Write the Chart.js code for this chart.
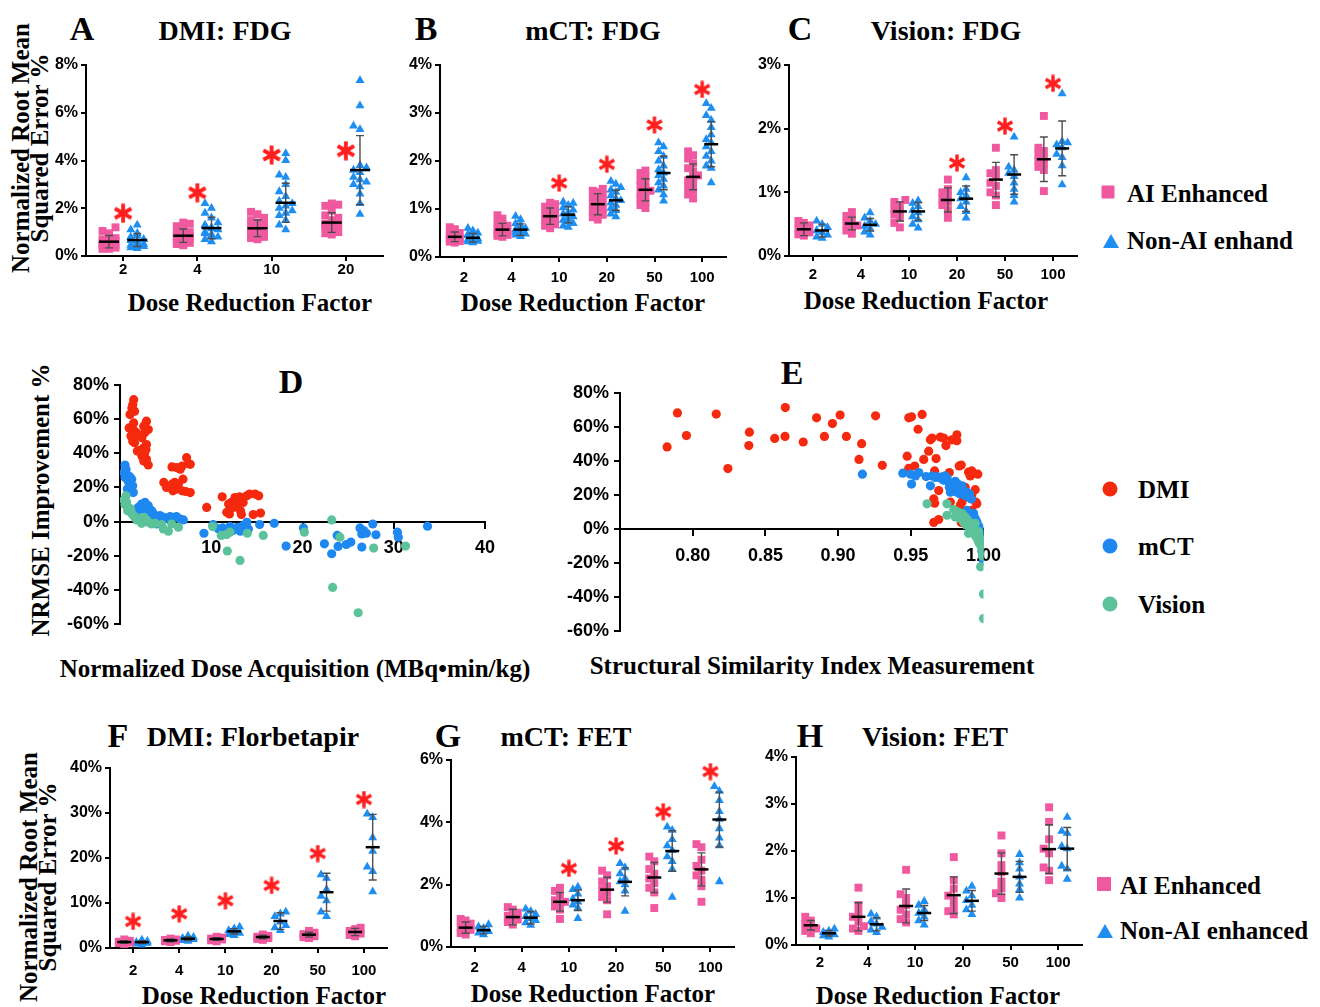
<!DOCTYPE html>
<html>
<head>
<meta charset="utf-8">
<script src="https://cdn.jsdelivr.net/npm/chart.js@4.4.0/dist/chart.umd.min.js"></script>
<style>
body { margin: 0; background: #fff; }
#fig { position: relative; width: 1320px; height: 1007px; overflow: hidden; }
canvas { position: absolute; }
.t { position: absolute; transform: translate(-50%, -50%); white-space: nowrap; font-family: 'Liberation Serif', 'Times New Roman', serif; font-weight: bold; color: #000; line-height: 1; }
.let { font-size: 34px; }
.ttl { font-size: 28px; }
.ax { font-size: 25px; }
.yt { transform: translate(-50%, -50%) rotate(-90deg); text-align: center; line-height: 19px; }
.lg { position: absolute; transform: translate(0, -50%); font-family: 'Liberation Serif', serif; font-weight: bold; font-size: 25px; white-space: nowrap; line-height: 1; }
.sq { position: absolute; width: 13px; height: 13px; background: #F0589F; transform: translate(-50%, -50%); }
.tri { position: absolute; width: 0; height: 0; border-left: 8px solid transparent; border-right: 8px solid transparent; border-bottom: 14px solid #1F8EF1; transform: translate(-50%, -50%); }
.dot { position: absolute; width: 15px; height: 15px; border-radius: 50%; transform: translate(-50%, -50%); }
</style>
</head>
<body>
<div id="fig">
  <!-- top row -->
  <div class="t let" style="left:82px;top:29px">A</div>
  <div class="t ttl" style="left:225px;top:31px">DMI: FDG</div>
  <div class="t let" style="left:426px;top:29px">B</div>
  <div class="t ttl" style="left:593px;top:31px">mCT: FDG</div>
  <div class="t let" style="left:800px;top:29px">C</div>
  <div class="t ttl" style="left:946px;top:31px">Vision: FDG</div>
  <div class="t ax yt" style="left:30px;top:148px">Normalized Root Mean<br>Squared Error %</div>
  <div class="t ax" style="left:250px;top:302px">Dose Reduction Factor</div>
  <div class="t ax" style="left:583px;top:302px">Dose Reduction Factor</div>
  <div class="t ax" style="left:926px;top:300px">Dose Reduction Factor</div>
  <div class="sq" style="left:1108px;top:192px"></div>
  <div class="lg" style="left:1127px;top:193px">AI Enhanced</div>
  <div class="tri" style="left:1111px;top:241px"></div>
  <div class="lg" style="left:1127px;top:240px">Non-AI enhand</div>

  <!-- middle row -->
  <div class="t let" style="left:291px;top:382px">D</div>
  <div class="t let" style="left:792px;top:373px">E</div>
  <div class="t ax yt" style="left:40px;top:500px">NRMSE Improvement %</div>
  <div class="t ax" style="left:295px;top:668px">Normalized Dose Acquisition (MBq•min/kg)</div>
  <div class="t ax" style="left:812px;top:665px">Structural Similarity Index Measurement</div>
  <div class="dot" style="left:1110px;top:489px;background:#F5290D"></div>
  <div class="lg" style="left:1138px;top:489px">DMI</div>
  <div class="dot" style="left:1110px;top:546px;background:#1E88F0"></div>
  <div class="lg" style="left:1138px;top:546px">mCT</div>
  <div class="dot" style="left:1110px;top:604px;background:#5CC29A"></div>
  <div class="lg" style="left:1138px;top:604px">Vision</div>

  <!-- bottom row -->
  <div class="t let" style="left:118px;top:736px">F</div>
  <div class="t ttl" style="left:253px;top:737px">DMI: Florbetapir</div>
  <div class="t let" style="left:448px;top:736px">G</div>
  <div class="t ttl" style="left:566px;top:737px">mCT: FET</div>
  <div class="t let" style="left:810px;top:736px">H</div>
  <div class="t ttl" style="left:935px;top:737px">Vision: FET</div>
  <div class="t ax yt" style="left:38px;top:877px">Normalized Root Mean<br>Squared Error %</div>
  <div class="t ax" style="left:264px;top:995px">Dose Reduction Factor</div>
  <div class="t ax" style="left:593px;top:993px">Dose Reduction Factor</div>
  <div class="t ax" style="left:938px;top:995px">Dose Reduction Factor</div>
  <div class="sq" style="left:1104px;top:884px;width:14px;height:14px"></div>
  <div class="lg" style="left:1120px;top:885px">AI Enhanced</div>
  <div class="tri" style="left:1105px;top:931px"></div>
  <div class="lg" style="left:1120px;top:930px">Non-AI enhanced</div>
</div>

<script>
// ========================================
// Data
// ========================================
const dose4 = ['2', '4', '10', '20'];
const dose6 = ['2', '4', '10', '20', '50', '100'];

// A - DMI: FDG
const aiA = [
    [1.2, 1.05, 0.95, 0.85, 0.75, 0.7, 0.65, 0.6, 0.55, 0.5, 0.45, 0.42, 0.4, 0.35, 0.3, 0.3],
    [1.4, 1.35, 1.25, 1.1, 1.0, 0.95, 0.9, 0.85, 0.8, 0.75, 0.7, 0.65, 0.6, 0.55, 0.5, 0.45],
    [1.85, 1.75, 1.6, 1.5, 1.4, 1.3, 1.2, 1.15, 1.1, 1.0, 0.95, 0.9, 0.85, 0.8, 0.75, 0.7],
    [2.2, 2.15, 2.1, 1.9, 1.7, 1.6, 1.5, 1.4, 1.35, 1.3, 1.25, 1.2, 1.1, 1.0, 0.95, 0.9]
];
const nonAiA = [
    [1.3, 1.1, 0.95, 0.85, 0.8, 0.7, 0.65, 0.6, 0.55, 0.5, 0.45, 0.42, 0.4, 0.35, 0.32],
    [2.2, 2.0, 1.8, 1.6, 1.4, 1.3, 1.2, 1.15, 1.1, 1.0, 0.95, 0.9, 0.85, 0.8, 0.7, 0.6],
    [4.3, 4.0, 3.4, 3.3, 3.0, 2.7, 2.5, 2.3, 2.2, 2.1, 2.0, 1.9, 1.8, 1.7, 1.5, 1.3, 1.1],
    [7.35, 6.3, 5.45, 5.3, 3.8, 3.7, 3.6, 3.5, 3.3, 3.2, 3.1, 3.0, 2.9, 2.6, 2.2, 1.75]
];
const aiMeanA = [0.6, 0.85, 1.16, 1.4];
const aiSdA = [0.26, 0.28, 0.35, 0.41];
const nonAiMeanA = [0.67, 1.17, 2.23, 3.6];
const nonAiSdA = [0.27, 0.45, 0.82, 1.44];
const starA = [1.79, 2.65, 4.23, 4.41];

// B - mCT: FDG
const aiB = [
    [0.62, 0.58, 0.55, 0.5, 0.48, 0.45, 0.42, 0.4, 0.38, 0.36, 0.35, 0.33, 0.32, 0.3],
    [0.87, 0.8, 0.72, 0.68, 0.65, 0.6, 0.58, 0.55, 0.52, 0.5, 0.48, 0.46, 0.44, 0.42],
    [1.13, 1.1, 1.05, 1.0, 0.95, 0.9, 0.87, 0.85, 0.82, 0.78, 0.75, 0.72, 0.68, 0.65, 0.6],
    [1.42, 1.38, 1.35, 1.3, 1.25, 1.2, 1.15, 1.1, 1.05, 1.0, 0.95, 0.92, 0.88, 0.83, 0.78],
    [1.8, 1.75, 1.68, 1.6, 1.55, 1.48, 1.42, 1.38, 1.33, 1.28, 1.22, 1.15, 1.08, 1.02],
    [2.2, 2.12, 2.05, 1.95, 1.85, 1.78, 1.7, 1.65, 1.6, 1.52, 1.45, 1.38, 1.3, 1.22]
];
const nonAiB = [
    [0.6, 0.55, 0.5, 0.47, 0.45, 0.42, 0.4, 0.38, 0.36, 0.35, 0.33, 0.32, 0.3],
    [0.85, 0.78, 0.7, 0.66, 0.63, 0.6, 0.57, 0.55, 0.52, 0.5, 0.48, 0.46, 0.43],
    [1.15, 1.12, 1.08, 1.03, 0.98, 0.93, 0.9, 0.87, 0.84, 0.8, 0.77, 0.73, 0.7, 0.65, 0.62],
    [1.58, 1.52, 1.45, 1.4, 1.35, 1.28, 1.22, 1.18, 1.13, 1.08, 1.02, 0.97, 0.9, 0.84],
    [2.38, 2.3, 2.2, 2.1, 2.0, 1.9, 1.82, 1.75, 1.7, 1.62, 1.55, 1.48, 1.4, 1.3, 1.17],
    [3.2, 3.1, 2.95, 2.85, 2.7, 2.55, 2.45, 2.38, 2.3, 2.2, 2.1, 2.0, 1.9, 1.85, 1.55]
];
const aiMeanB = [0.42, 0.57, 0.85, 1.1, 1.4, 1.67];
const aiSdB = [0.1, 0.13, 0.17, 0.22, 0.23, 0.27];
const nonAiMeanB = [0.4, 0.57, 0.88, 1.18, 1.75, 2.35];
const nonAiSdB = [0.09, 0.12, 0.17, 0.21, 0.35, 0.47];
const starB = [null, null, 1.54, 1.93, 2.75, 3.49];

// C - Vision: FDG
const aiC = [
    [0.55, 0.52, 0.48, 0.43, 0.4, 0.37, 0.34, 0.32],
    [0.69, 0.63, 0.58, 0.52, 0.48, 0.45, 0.4, 0.35],
    [0.88, 0.85, 0.8, 0.75, 0.7, 0.65, 0.6, 0.52, 0.45],
    [1.2, 1.05, 1.0, 0.95, 0.9, 0.85, 0.8, 0.72, 0.6],
    [1.7, 1.35, 1.3, 1.25, 1.15, 1.1, 1.0, 0.95, 0.8],
    [2.2, 1.7, 1.65, 1.6, 1.55, 1.5, 1.45, 1.4, 1.35, 1.02]
];
const nonAiC = [
    [0.55, 0.5, 0.45, 0.4, 0.37, 0.33, 0.3, 0.28],
    [0.68, 0.6, 0.55, 0.5, 0.47, 0.43, 0.38, 0.33],
    [0.87, 0.83, 0.78, 0.72, 0.68, 0.62, 0.57, 0.5, 0.44],
    [1.23, 1.05, 1.0, 0.95, 0.9, 0.85, 0.78, 0.7, 0.6],
    [1.87, 1.4, 1.35, 1.3, 1.25, 1.15, 1.05, 0.95, 0.85],
    [2.55, 1.8, 1.78, 1.75, 1.7, 1.6, 1.55, 1.42, 1.12]
];
const aiMeanC = [0.42, 0.51, 0.7, 0.88, 1.2, 1.52];
const aiSdC = [0.1, 0.1, 0.15, 0.19, 0.27, 0.35];
const nonAiMeanC = [0.4, 0.49, 0.7, 0.9, 1.28, 1.69];
const nonAiSdC = [0.1, 0.1, 0.14, 0.2, 0.31, 0.43];
const starC = [null, null, null, 1.46, 2.04, 2.71];

// F - DMI: Florbetapir
const aiF = [
    [1.9, 1.6, 1.4, 1.3, 1.2, 1.1, 0.9],
    [2.1, 1.9, 1.8, 1.7, 1.6, 1.5, 1.3],
    [2.5, 2.3, 2.1, 2.0, 1.9, 1.7, 1.5],
    [3.0, 2.7, 2.5, 2.4, 2.2, 2.0, 1.8],
    [3.8, 3.4, 3.1, 2.9, 2.6, 2.4, 2.2],
    [4.5, 4.2, 3.8, 3.5, 3.2, 2.9, 2.6]
];
const nonAiF = [
    [1.8, 1.5, 1.3, 1.2, 1.1, 0.9, 0.7],
    [2.7, 2.4, 2.2, 2.0, 1.9, 1.7, 1.5],
    [4.7, 4.3, 3.9, 3.6, 3.3, 3.0, 2.8],
    [8.0, 7.6, 7.0, 5.8, 5.0, 4.5, 3.9],
    [16.3, 15.5, 13.0, 11.5, 10.5, 8.0, 7.0],
    [29.8, 29.0, 24.5, 21.5, 18.0, 17.0, 12.5]
];
const aiMeanF = [1.33, 1.7, 2.0, 2.44, 2.96, 3.56];
const aiSdF = [0.3, 0.3, 0.3, 0.4, 0.55, 0.8];
const nonAiMeanF = [1.3, 2.07, 3.7, 6.0, 12.4, 22.4];
const nonAiSdF = [0.3, 0.4, 0.6, 1.85, 4.2, 7.3];
const starF = [5.9, 7.6, 10.5, 13.9, 21.0, 33.0];

// G - mCT: FET
const aiG = [
    [0.9, 0.85, 0.75, 0.65, 0.6, 0.55, 0.45, 0.4],
    [1.28, 1.2, 1.1, 1.0, 0.95, 0.88, 0.8, 0.72],
    [1.9, 1.8, 1.65, 1.5, 1.45, 1.38, 1.3, 1.2, 0.9],
    [2.45, 2.3, 2.1, 1.95, 1.85, 1.75, 1.6, 1.5, 1.05],
    [2.9, 2.75, 2.5, 2.35, 2.2, 2.05, 1.9, 1.75, 1.25],
    [3.3, 3.2, 2.8, 2.6, 2.45, 2.3, 2.15, 1.95, 1.45]
];
const nonAiG = [
    [0.72, 0.65, 0.6, 0.55, 0.5, 0.45, 0.4],
    [1.22, 1.15, 1.05, 0.98, 0.92, 0.85, 0.78, 0.7],
    [1.93, 1.85, 1.7, 1.55, 1.45, 1.35, 1.25, 0.92],
    [2.68, 2.55, 2.35, 2.2, 2.1, 2.0, 1.8, 1.15],
    [3.85, 3.75, 3.45, 3.25, 3.1, 2.9, 2.75, 2.5, 1.6],
    [5.15, 5.0, 4.7, 4.35, 4.1, 3.8, 3.5, 3.25, 2.1]
];
const aiMeanG = [0.62, 0.96, 1.45, 1.84, 2.23, 2.49];
const aiSdG = [0.18, 0.25, 0.3, 0.4, 0.48, 0.53];
const nonAiMeanG = [0.54, 0.94, 1.5, 2.09, 3.08, 4.09];
const nonAiSdG = [0.12, 0.2, 0.33, 0.45, 0.65, 0.88];
const starG = [null, null, 2.52, 3.24, 4.34, 5.63];

// H - Vision: FET
const aiH = [
    [0.6, 0.52, 0.45, 0.4, 0.35, 0.3, 0.25],
    [1.22, 0.85, 0.7, 0.6, 0.5, 0.4, 0.35, 0.3],
    [1.6, 1.08, 1.0, 0.85, 0.75, 0.65, 0.55, 0.48],
    [1.87, 1.38, 1.2, 1.05, 0.95, 0.8, 0.72, 0.65],
    [2.33, 1.95, 1.7, 1.55, 1.35, 1.2, 1.1, 1.0],
    [2.93, 2.62, 2.25, 2.05, 1.95, 1.65, 1.58, 1.38]
];
const nonAiH = [
    [0.34, 0.3, 0.27, 0.24, 0.22, 0.2, 0.17],
    [0.66, 0.6, 0.5, 0.45, 0.38, 0.32, 0.27],
    [0.93, 0.85, 0.75, 0.68, 0.6, 0.52, 0.43],
    [1.25, 1.15, 1.05, 0.95, 0.85, 0.75, 0.65],
    [1.93, 1.75, 1.62, 1.45, 1.3, 1.18, 1.0],
    [2.72, 2.42, 2.38, 2.1, 2.05, 1.68, 1.62, 1.4]
];
const aiMeanH = [0.42, 0.6, 0.83, 1.06, 1.52, 2.04];
const aiSdH = [0.1, 0.3, 0.36, 0.39, 0.44, 0.52];
const nonAiMeanH = [0.25, 0.44, 0.68, 0.94, 1.45, 2.05];
const nonAiSdH = [0.06, 0.14, 0.16, 0.22, 0.33, 0.45];
const starH = [];

// D - NRMSE improvement vs normalized dose acquisition  [dose, improvement %]
const dmiD = [
    [1.5, 71.3], [1.4, 68.4], [1.3, 66.4], [1.6, 64.5], [1.1, 62.6], [1.5, 57.7], [1.0, 54.8], [1.3, 53.8],
    [1.6, 52.9], [1.2, 50], [1.5, 48], [1.6, 46.1], [1.4, 47], [1.8, 51.9], [1.9, 41.3],
    [2.9, 58.7], [2.6, 55.8], [3.1, 53.8], [2.7, 51.9], [2.4, 49], [2.9, 45.1], [2.6, 43.2], [2.2, 41.6],
    [2.7, 40.3], [2.4, 38.4], [2.9, 36.4], [2.6, 35.4], [3.1, 33.1], [2.0, 41.3], [2.85, 42.2],
    [4.8, 22.9], [5.7, 32], [6.2, 31.6], [6.8, 32.5], [7.3, 37.4], [7.5, 33.9], [7.7, 33.5], [6.6, 30.6],
    [6.0, 22.9], [6.4, 21.9], [6.9, 24.8], [5.8, 18], [6.2, 19], [6.8, 18], [7.2, 17.6], [7.7, 17],
    [5.7, 21.9], [5.1, 20],
    [9.5, 8.3], [11.2, 14.5], [11.7, 5.4], [12.0, 4.5], [11.9, 10.3], [12.2, 11.2], [12.6, 14.1],
    [12.8, 10.3], [13.1, 14.5], [13.2, 6.4], [13.3, 4.1], [13.5, 11.2], [13.9, 15.1], [14.2, 16.1],
    [14.6, 4.1], [14.8, 16.1], [15.2, 15.1], [15.4, 5.0], [12.4, 8.3]
];
const mctD = [
    [0.55, 33.1], [0.66, 30.6], [0.44, 28.7], [0.73, 27.7], [0.91, 26.7], [1.1, 26.1], [0.55, 25.8],
    [1.28, 24.8], [0.91, 23.4], [1.17, 21.9], [1.39, 20.9], [0.8, 19], [1.28, 18], [1.46, 17],
    [2.37, 10.3], [2.74, 11.2], [3.1, 9.3], [2.0, 8.3], [2.56, 7.4], [2.92, 6.8], [3.47, 6.4],
    [1.83, 5.4], [2.19, 4.5], [3.29, 4.5], [2.74, 4.1], [3.65, 4.8], [3.1, 2.9],
    [3.84, 1.5], [4.38, 3.5], [4.75, 2.5], [5.11, 2.1], [5.48, 2.9], [5.84, 2.5], [6.2, 2.9],
    [6.58, 1.5], [6.94, 1.0], [4.02, -1.4], [4.57, -0.4], [3.47, -1.0],
    [9.2, -6.8], [10.2, -1.7], [11.25, -3.7], [12.05, -2.9], [12.4, -5.2], [12.86, -3.3], [13.2, -5.6],
    [13.5, -2.3], [13.9, -0.4], [14.07, -4.3], [15.3, -1.7], [16.9, -1.0], [18.2, -14.3], [20.1, -3.7],
    [22.4, -13], [23.2, -18.8], [23.8, -8.1], [23.9, -14.5], [24.8, -13.4], [25.3, -12], [26.3, -3.7],
    [26.5, -7.2], [26.7, -5.2], [26.5, -14.9], [27.0, -6.8], [27.7, -1.4], [28.05, -7.7], [30.4, -6.2],
    [30.5, -9.1], [33.7, -2.7], [10.8, -4.3], [11.7, -6.2]
];
const visionD = [
    [0.66, 15.1], [0.44, 12.6], [0.73, 11.2], [0.55, 9.9], [0.91, 8.3], [1.17, 7.4], [0.84, 6.4],
    [1.28, 4.8], [1.46, 3.5], [1.64, 2.5],
    [1.83, 1.0], [2.19, 2.1], [2.37, -1.0], [2.63, 2.5], [2.92, 1.0], [3.1, -0.4], [3.47, -1.4], [3.84, -1.0],
    [4.57, -1.7], [4.75, -4.3], [5.3, -5.6], [5.66, -1.4], [6.4, -3.3], [10.15, -2.9], [11.7, -7.6],
    [12.05, -6.2], [11.76, -17.2], [13.15, -22.7], [13.95, -6.8], [15.7, -8.1], [20.2, -6.2], [23.2, 1.0],
    [23.3, -38.5], [24.1, -9.1], [26.1, -53.3], [27.8, -15.5], [31.3, -14.3], [11.1, -8.1]
];

// E - NRMSE improvement vs SSIM  [ssim, improvement %]
const dmiE = [
    [0.7824, 48.2], [0.7895, 68.2], [0.7957, 54.9], [0.8162, 67.5], [0.8242, 35.5], [0.839, 56.9],
    [0.8386, 49.0], [0.8564, 53.2], [0.8637, 71.3], [0.8635, 54.4], [0.876, 51.1], [0.8852, 65.3],
    [0.8906, 54.4], [0.8961, 61.9], [0.9014, 66.9], [0.9057, 54.4], [0.9162, 50.1], [0.9144, 40.9],
    [0.9258, 66.5], [0.9304, 37.4], [0.9475, 42.8], [0.9486, 65.3], [0.9505, 65.9], [0.9486, 35.7],
    [0.9527, 37.0], [0.955, 58.6], [0.9578, 67.3], [0.9589, 40.9], [0.9623, 45.7], [0.9635, 52.4],
    [0.9646, 53.4], [0.9664, 34.1], [0.9658, 17.7], [0.9664, 15.2], [0.9658, 3.9], [0.9674, 41.4],
    [0.9692, 5.6], [0.9692, 22.6], [0.9703, 54.0], [0.9726, 53.4], [0.9742, 49.0], [0.9765, 33.2],
    [0.9772, 15.8], [0.9783, 52.4], [0.9817, 55.3], [0.9817, 51.9], [0.9833, 37.0], [0.9847, 37.6],
    [0.9852, 15.8], [0.984, 13.9], [0.9863, 22.6], [0.9874, 24.5], [0.9881, 9.4], [0.9847, 3.9],
    [0.9897, 33.5], [0.9909, 31.2], [0.992, 34.1], [0.9932, 32.6], [0.9943, 23.1], [0.9947, 15.8],
    [0.9954, 14.8], [0.992, 11.0], [0.9961, 32.2], [0.992, 20.0], [0.9897, 7.1]
];
const mctE = [
    [0.9167, 32.2], [0.9445, 32.8], [0.9498, 32.2], [0.9505, 26.4], [0.9532, 31.2], [0.9555, 33.2],
    [0.9605, 30.8], [0.9635, 25.4], [0.9646, 31.2], [0.9669, 30.3], [0.968, 30.7], [0.9703, 29.9],
    [0.9715, 30.7], [0.9726, 28.7], [0.9737, 31.2], [0.9749, 29.9], [0.9756, 28.0], [0.9765, 24.5],
    [0.9772, 21.6], [0.9783, 26.4], [0.9795, 23.5], [0.9806, 28.0], [0.9811, 24.9], [0.9817, 21.6],
    [0.9824, 26.4], [0.9833, 23.5], [0.984, 20.6], [0.9852, 25.4], [0.9863, 22.6], [0.9874, 19.7],
    [0.9886, 21.6], [0.9897, 18.7], [0.9904, 20.6], [0.9916, 17.7], [0.9886, 11.0], [0.9897, 8.1],
    [0.992, 7.1], [0.9932, 9.1], [0.9943, 6.2], [0.9954, 4.2], [0.9961, 2.3], [0.997, 1.3],
    [0.9977, -0.6], [0.9984, -2.5], [0.9989, -4.4], [0.9993, -7.3], [0.9995, -10.2], [0.9989, -13.1],
    [0.9995, -16.0], [1.0, -18.9], [0.9966, -4.4], [0.9932, 0.4]
];
const visionE = [
    [0.9612, 14.8], [0.9749, 14.8], [0.9749, 8.1], [0.9795, 11.4], [0.9806, 7.1], [0.9824, 10.0],
    [0.984, 6.2], [0.9852, 9.1], [0.9863, 4.2], [0.9874, 7.1], [0.9881, 2.3], [0.9893, 5.2],
    [0.9902, 1.3], [0.9909, 3.3], [0.9916, -0.6], [0.9925, 1.3], [0.9932, -2.5], [0.9938, -0.6],
    [0.9947, -4.4], [0.9954, -2.5], [0.9961, -6.4], [0.9966, -1.5], [0.997, -8.3], [0.9977, -4.4],
    [0.9984, -10.2], [0.9989, -7.3], [0.9993, -13.1], [0.9995, -16.0], [0.998, -22.2], [1.0, -38.2],
    [1.0, -52.6], [0.992, 2.3], [0.9943, 3.3], [0.9897, -2.5]
];

// ========================================
// Shared styling
// ========================================
const PINK = '#F0589F';
const BLUE = '#1F8EF1';
const RED = '#F5290D';
const MBLUE = '#1E88F0';
const GREEN = '#5CC29A';
const SANS = 'Liberation Sans';

function axisStyle(size, pad, tick) {
    return {
        ticks: { color: '#000', padding: pad, font: { family: SANS, weight: 'bold', size: size } },
        grid: { drawOnChartArea: false, drawTicks: true, tickLength: tick, color: '#000', lineWidth: 2 },
        border: { display: true, color: '#000', width: 2 }
    };
}

// place a canvas so the plot area lands on `area`
function makeCanvas(area, m) {
    const c = document.createElement('canvas');
    const w = area.r - area.l + m.l + m.r;
    const h = area.b - area.t + m.t + m.b;
    c.width = w; c.height = h;
    c.style.left = (area.l - m.l) + 'px';
    c.style.top = (area.t - m.t) + 'px';
    c.style.width = w + 'px';
    c.style.height = h + 'px';
    document.getElementById('fig').appendChild(c);
    return c;
}

// red asterisk marker
function starImg(size) {
    const c = document.createElement('canvas');
    c.width = c.height = size;
    const g = c.getContext('2d');
    g.strokeStyle = '#FF1E1E';
    g.lineWidth = size * 0.19;
    const r = size / 2 - 0.5;
    for (let k = 0; k < 3; k++) {
        const a = Math.PI / 2 + k * Math.PI / 3;
        g.beginPath();
        g.moveTo(size / 2 + r * Math.cos(a), size / 2 + r * Math.sin(a));
        g.lineTo(size / 2 - r * Math.cos(a), size / 2 - r * Math.sin(a));
        g.stroke();
    }
    return c;
}

// horizontal spread of points in a column (dot plot layout), in px
function swarm(vals, pxY, step) {
    const placed = [];
    const offs = new Array(vals.length).fill(0);
    const order = vals.map((v, i) => i).sort((a, b) => vals[a] - vals[b]);
    const cands = [0, -step, step];
    order.forEach(i => {
        const y = vals[i] * pxY;
        let best = 0, bestHit = Infinity;
        for (const c of cands) {
            let hit = 0;
            placed.forEach(p => { if (Math.abs(p.y - y) < step && Math.abs(p.x - c) < step) hit++; });
            if (hit < bestHit) { bestHit = hit; best = c; }
            if (hit === 0) break;
        }
        offs[i] = best;
        placed.push({ x: best, y: y });
    });
    return offs;
}

// mean line + SD whiskers
function meanSdPlugin(groups, halfMean) {
    return {
        id: 'meanSd',
        afterDatasetsDraw(chart) {
            const { ctx, scales: { x, y } } = chart;
            ctx.save();
            groups.forEach(g => {
                g.mean.forEach((m, i) => {
                    const px = x.getPixelForValue(i + g.shift);
                    const top = y.getPixelForValue(m + g.sd[i]);
                    const bot = y.getPixelForValue(Math.max(0, m - g.sd[i]));
                    const mid = y.getPixelForValue(m);
                    ctx.strokeStyle = '#4d4d4d';
                    ctx.lineWidth = 1.4;
                    ctx.beginPath();
                    ctx.moveTo(px, top); ctx.lineTo(px, bot);
                    ctx.moveTo(px - 4, top); ctx.lineTo(px + 4, top);
                    ctx.moveTo(px - 4, bot); ctx.lineTo(px + 4, bot);
                    ctx.stroke();
                    ctx.strokeStyle = '#000';
                    ctx.lineWidth = 2.5;
                    ctx.beginPath();
                    ctx.moveTo(px - halfMean, mid); ctx.lineTo(px + halfMean, mid);
                    ctx.stroke();
                });
            });
            ctx.restore();
        }
    };
}

// ========================================
// Dot plot panels (A, B, C, F, G, H)
// ========================================
function dotPanel(p) {
    const m = { l: 50, t: 14, r: 10, b: 40 };
    const canvas = makeCanvas(p.area, m);
    const n = p.labels.length;
    const pxY = (p.area.b - p.area.t) / p.yMax;
    const pxCat = (p.area.r - p.area.l) / n;

    const pts = (groups, shift) => {
        const out = [];
        groups.forEach((vals, i) => {
            const offs = swarm(vals, pxY, p.step);
            vals.forEach((v, k) => out.push({ x: i + shift + offs[k] / pxCat, y: v }));
        });
        return out;
    };
    const stars = [];
    p.stars.forEach((v, i) => { if (v !== null) stars.push({ x: i, y: v }); });

    const xs = axisStyle(15, p.xPad, 5);
    const ys = axisStyle(16, 3, 5);

    new Chart(canvas, {
        type: 'scatter',
        data: {
            datasets: [
                { data: pts(p.ai, -0.19), pointStyle: 'rect', pointRadius: 5.6, pointBackgroundColor: PINK, pointBorderWidth: 0 },
                { data: pts(p.nonAi, 0.19), pointStyle: 'triangle', pointRadius: 5.2, pointBackgroundColor: BLUE, pointBorderWidth: 0 },
                { data: stars, pointStyle: starImg(p.starSize), pointRadius: 10 }
            ]
        },
        options: {
            animation: false,
            responsive: false,
            events: [],
            layout: { padding: { left: 0, top: m.t, right: m.r, bottom: 0 } },
            plugins: { legend: { display: false }, tooltip: { enabled: false } },
            scales: {
                x: {
                    type: 'linear', min: -0.5, max: n - 0.5,
                    afterBuildTicks: axis => { axis.ticks = p.labels.map((_, i) => ({ value: i })); },
                    afterFit: axis => { axis.height = m.b; },
                    ticks: { ...xs.ticks, callback: v => p.labels[Math.round(v)] },
                    grid: xs.grid, border: xs.border
                },
                y: {
                    min: 0, max: p.yMax,
                    afterFit: axis => { axis.width = m.l; },
                    ticks: { ...ys.ticks, stepSize: p.yStep, callback: v => v + '%' },
                    grid: ys.grid, border: ys.border
                }
            }
        },
        plugins: [meanSdPlugin([
            { mean: p.aiMean, sd: p.aiSd, shift: -0.19 },
            { mean: p.nonAiMean, sd: p.nonAiSd, shift: 0.19 }
        ], p.halfMean)]
    });
}

dotPanel({ area: { l: 86, t: 65, r: 384, b: 256 }, labels: dose4, ai: aiA, nonAi: nonAiA,
    aiMean: aiMeanA, aiSd: aiSdA, nonAiMean: nonAiMeanA, nonAiSd: nonAiSdA, stars: starA,
    yMax: 8, yStep: 2, xPad: 0, step: 6.5, halfMean: 10, starSize: 20 });
dotPanel({ area: { l: 440, t: 65, r: 727, b: 257 }, labels: dose6, ai: aiB, nonAi: nonAiB,
    aiMean: aiMeanB, aiSd: aiSdB, nonAiMean: nonAiMeanB, nonAiSd: nonAiSdB, stars: starB,
    yMax: 4, yStep: 1, xPad: 7, step: 5, halfMean: 7, starSize: 18 });
dotPanel({ area: { l: 789, t: 65, r: 1078, b: 256 }, labels: dose6, ai: aiC, nonAi: nonAiC,
    aiMean: aiMeanC, aiSd: aiSdC, nonAiMean: nonAiMeanC, nonAiSd: nonAiSdC, stars: starC,
    yMax: 3, yStep: 1, xPad: 5, step: 5.5, halfMean: 7, starSize: 18 });
dotPanel({ area: { l: 110, t: 768, r: 388, b: 948 }, labels: dose6, ai: aiF, nonAi: nonAiF,
    aiMean: aiMeanF, aiSd: aiSdF, nonAiMean: nonAiMeanF, nonAiSd: nonAiSdF, stars: starF,
    yMax: 40, yStep: 10, xPad: 9, step: 5.5, halfMean: 7, starSize: 18 });
dotPanel({ area: { l: 451, t: 760, r: 735, b: 947 }, labels: dose6, ai: aiG, nonAi: nonAiG,
    aiMean: aiMeanG, aiSd: aiSdG, nonAiMean: nonAiMeanG, nonAiSd: nonAiSdG, stars: starG,
    yMax: 6, yStep: 2, xPad: 7, step: 5, halfMean: 7, starSize: 18 });
dotPanel({ area: { l: 796, t: 757, r: 1082, b: 945 }, labels: dose6, ai: aiH, nonAi: nonAiH,
    aiMean: aiMeanH, aiSd: aiSdH, nonAiMean: nonAiMeanH, nonAiSd: nonAiSdH, stars: starH,
    yMax: 4, yStep: 1, xPad: 4, step: 5.5, halfMean: 7, starSize: 18 });

// ========================================
// Scatter panels (D, E)
// ========================================
function scatterPanel(p) {
    const m = { l: 60, t: 14, r: 26, b: 14 };
    const canvas = makeCanvas(p.area, m);
    const xs = axisStyle(18, 10, 6);
    const ys = axisStyle(18, 5, 6);
    const ds = (pairs, color) => ({
        data: pairs.map(q => ({ x: q[0], y: q[1] })),
        pointRadius: 4.6, pointBackgroundColor: color, pointBorderWidth: 0
    });

    new Chart(canvas, {
        type: 'scatter',
        data: { datasets: [ds(p.vision, GREEN), ds(p.mct, MBLUE), ds(p.dmi, RED)] },
        options: {
            animation: false,
            responsive: false,
            events: [],
            layout: { padding: { left: 0, top: m.t, right: m.r, bottom: m.b } },
            plugins: { legend: { display: false }, tooltip: { enabled: false } },
            scales: {
                x: {
                    type: 'linear', min: p.xMin, max: p.xMax, position: { y: 0 },
                    afterBuildTicks: axis => { axis.ticks = p.xTicks.map(v => ({ value: v })); },
                    afterFit: axis => { axis.height = 0; },
                    ticks: { ...xs.ticks, callback: p.xFmt },
                    grid: xs.grid, border: xs.border
                },
                y: {
                    min: -60, max: 80,
                    afterFit: axis => { axis.width = m.l; },
                    ticks: { ...ys.ticks, stepSize: 20, callback: v => v + '%' },
                    grid: ys.grid, border: ys.border
                }
            }
        }
    });
}

scatterPanel({ area: { l: 120, t: 383, r: 485, b: 626 }, dmi: dmiD, mct: mctD, vision: visionD,
    xMin: 0, xMax: 40, xTicks: [10, 20, 30, 40], xFmt: v => String(v) });
scatterPanel({ area: { l: 620, t: 391, r: 985, b: 633 }, dmi: dmiE, mct: mctE, vision: visionE,
    xMin: 0.75, xMax: 1.0, xTicks: [0.8, 0.85, 0.9, 0.95, 1.0], xFmt: v => v.toFixed(2) });
</script>
</body>
</html>
